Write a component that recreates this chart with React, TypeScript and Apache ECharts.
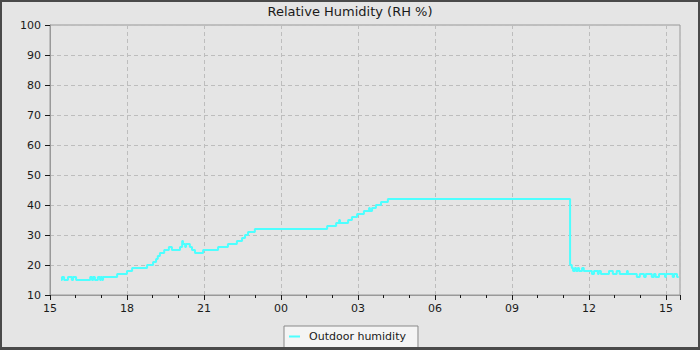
import React, { useEffect, useRef } from "react";
import * as echarts from "echarts";

// Minutes elapsed since 15:00 (start of the x axis)
const minutes: number[] = [
  26, 28, 33, 42, 51, 54, 61, 94, 98, 101, 105, 112, 117, 119, 122, 124,
  157, 180, 192, 227, 241, 248, 252, 257, 267, 278, 285, 304, 309, 311, 316, 318,
  327, 332, 339, 358, 393, 416, 437, 449, 456, 463, 479, 648, 669, 676, 678, 697,
  706, 718, 734, 746, 748, 753, 762, 774, 790, 1216, 1220, 1223, 1227, 1230, 1234,
  1237, 1244, 1248, 1267, 1272, 1281, 1283, 1288, 1307, 1316, 1325, 1332, 1349,
  1351, 1372, 1379, 1389, 1393, 1407, 1412, 1416, 1424, 1438, 1440, 1456, 1459,
  1466, 1470,
];
// Outdoor relative humidity (%)
const humidity: number[] = [
  15, 16, 15, 16, 15, 16, 15, 16, 15, 16, 15, 16, 15, 16, 15, 16,
  17, 18, 19, 20, 21, 22, 23, 24, 25, 26, 25, 26, 28, 27, 26, 27,
  26, 25, 24, 25, 26, 27, 28, 29, 30, 31, 32, 33, 34, 35, 34, 35,
  36, 37, 38, 39, 38, 39, 40, 41, 42, 20, 19, 18, 19, 18, 19,
  18, 19, 18, 17, 18, 17, 18, 17, 18, 17, 18, 17, 18,
  17, 16, 17, 16, 17, 16, 17, 16, 17, 16, 17, 16, 17,
  16, 16,
];
const startHour = 15;
const axisMaxMinutes = 1473;
const tickStepMinutes = 180;
const yTicks = { min: 10, max: 100, step: 10 };
const titleText = "Relative Humidity (RH %)";
const seriesName = "Outdoor humidity";

export default function App() {
  const ref = useRef<HTMLDivElement>(null);
  useEffect(() => {
    if (!ref.current) return;
    const chart = echarts.init(ref.current, null, { renderer: "svg" });
    const font = "DejaVu Sans";
    const data = minutes.map((m, i) => [m, humidity[i]]);
    chart.setOption({
      animation: false,
      backgroundColor: "#e5e5e5",
      title: {
        text: titleText,
        left: "center",
        top: 3,
        padding: 0,
        textStyle: { fontFamily: font, fontSize: 13, fontWeight: "normal", color: "#1a1a1a" },
      },
      grid: {
        left: 48,
        right: 18,
        top: 23,
        bottom: 52,
        show: true,
        borderColor: "#999999",
        borderWidth: 1,
        backgroundColor: "transparent",
      },
      legend: {
        left: 282,
        top: 324,
        orient: "horizontal",
        backgroundColor: "#f4f4f4",
        borderColor: "#888888",
        borderWidth: 1,
        borderRadius: 0,
        padding: [5, 12, 6, 5],
        itemWidth: 11,
        itemHeight: 2,
        icon: "rect",
        textStyle: { fontFamily: font, fontSize: 11, color: "#1a1a1a", padding: [0, 0, 0, 4] },
        data: [{ name: seriesName, icon: "rect" }],
      },
      xAxis: {
        type: "value",
        min: 0,
        max: axisMaxMinutes,
        interval: tickStepMinutes,
        axisLine: { show: true, onZero: false, lineStyle: { color: "#999999", width: 1 } },
        axisTick: { show: true, length: 5, lineStyle: { color: "#1a1a1a" } },
        minorTick: { show: true, splitNumber: 3, length: 3, lineStyle: { color: "#1a1a1a" } },
        axisLabel: {
          margin: 8,
          fontFamily: font,
          fontSize: 11,
          color: "#1a1a1a",
          showMaxLabel: false,
          formatter: (v: number) => {
            const h = Math.round(startHour + v / 60) % 24;
            return (h < 10 ? "0" : "") + h;
          },
        },
        splitLine: { show: true, lineStyle: { color: "#bdbdbd", type: [4, 3], width: 1 } },
      },
      yAxis: {
        type: "value",
        min: yTicks.min,
        max: yTicks.max,
        interval: yTicks.step,
        axisLine: { show: true, lineStyle: { color: "#999999", width: 1 } },
        axisTick: { show: true, length: 5, lineStyle: { color: "#1a1a1a" } },
        axisLabel: { margin: 9, fontFamily: font, fontSize: 11, color: "#1a1a1a" },
        splitLine: { show: true, lineStyle: { color: "#bdbdbd", type: [4, 3], width: 1 } },
      },
      series: [
        {
          name: seriesName,
          type: "line",
          step: "end",
          data,
          showSymbol: false,
          symbol: "none",
          color: "#4dffff",
          lineStyle: { color: "#4dffff", width: 2 },
        },
      ],
    });
    return () => chart.dispose();
  }, []);
  return (
    <div
      style={{
        position: "fixed",
        left: 0,
        top: 0,
        width: 700,
        height: 350,
        background: "#4a4a4a",
      }}
    >
      <div
        ref={ref}
        style={{ position: "absolute", left: 2, top: 2, width: 696, height: 345 }}
      />
    </div>
  );
}
